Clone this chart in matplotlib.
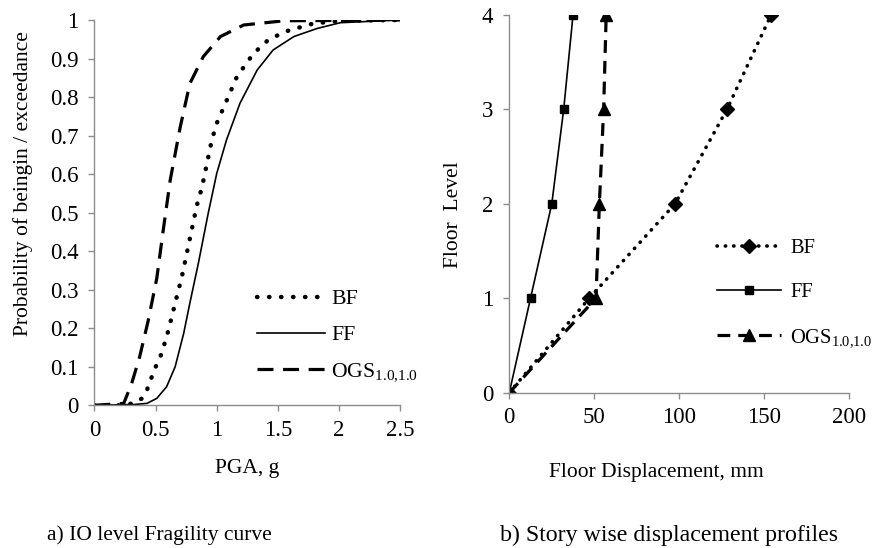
import matplotlib
matplotlib.use("Agg")
import matplotlib.pyplot as plt

plt.rcParams['font.family'] = ['Liberation Serif', 'DejaVu Serif']
plt.rcParams['mathtext.fontset'] = 'custom'
plt.rcParams['mathtext.rm'] = 'Liberation Serif'
plt.rcParams['font.size'] = 16

OGS_LABEL = r'OGS$_\mathrm{1.0{,}1.0}$'
AXIS_GRAY = '#8c8c8c'
TITLE_SIZE = 15.5

# a) fragility curves
pga_bf = [0, 0.20, 0.32, 0.39, 0.43, 0.49, 0.55, 0.605, 0.66, 0.715, 0.755, 0.795, 0.835,
          0.88, 0.92, 0.96, 1.0, 1.10, 1.165, 1.30, 1.42, 1.56, 1.79, 2.01, 2.5]
prob_bf = [0, 0, 0.005, 0.018, 0.04, 0.092, 0.135, 0.195, 0.265, 0.334, 0.394, 0.455, 0.516,
           0.567, 0.628, 0.689, 0.732, 0.805, 0.853, 0.913, 0.948, 0.97, 0.991, 0.998, 1.0]

pga_ff = [0, 0.32, 0.43, 0.51, 0.59, 0.66, 0.73, 0.78, 0.85, 0.93, 1.0, 1.08, 1.19,
          1.33, 1.46, 1.63, 1.82, 2.01, 2.5]
prob_ff = [0, 0.002, 0.005, 0.018, 0.048, 0.10, 0.187, 0.265, 0.369, 0.498, 0.602, 0.689, 0.784,
           0.87, 0.922, 0.957, 0.978, 0.993, 1.0]

pga_ogs = [0, 0.24, 0.305, 0.37, 0.44, 0.51, 0.565, 0.62, 0.70, 0.78, 0.89, 1.03, 1.22, 1.55, 2.5]
prob_ogs = [0, 0.005, 0.057, 0.126, 0.22, 0.33, 0.46, 0.585, 0.72, 0.835, 0.905, 0.957, 0.987, 0.998, 1.0]

# b) story wise displacement profiles
floors = [0, 1, 2, 3, 4]
disp_bf = [0, 47, 97.5, 128, 154]
disp_ff = [0, 12.5, 25, 32, 37.5]
disp_ogs = [0, 51, 53, 55.5, 57]

fig = plt.figure(figsize=(8.74, 5.48), dpi=100)
ax1 = fig.add_axes([0.108, 0.2604, 0.350, 0.7031])
ax2 = fig.add_axes([0.5827, 0.2834, 0.389, 0.6892])


def style_axes(ax):
    for side in ['top', 'right']:
        ax.spines[side].set_visible(False)
    for side in ['left', 'bottom']:
        ax.spines[side].set_color(AXIS_GRAY)
        ax.spines[side].set_linewidth(1.0)
    ax.tick_params(axis='both', direction='out', length=4.5, width=1.0, color=AXIS_GRAY,
                   labelsize=16.5)
    ax.tick_params(axis='y', pad=7)
    ax.tick_params(axis='x', pad=6)


# left panel
ax1.plot(pga_bf, prob_bf, color='black', lw=3.2, linestyle=(0, (0.1, 2.6)),
         dash_capstyle='round', label='BF')
ax1.plot(pga_ff, prob_ff, color='black', lw=1.2, label='FF')
ax1.plot(pga_ogs, prob_ogs, color='black', lw=2.3, linestyle=(0, (5, 3)), label=OGS_LABEL)
ax1.set_xlim(0, 2.5)
ax1.set_ylim(0, 1)
ax1.set_xticks([0, 0.5, 1, 1.5, 2, 2.5])
ax1.set_xticklabels(['0', '0.5', '1', '1.5', '2', '2.5'])
ax1.set_yticks([i / 10 for i in range(11)])
ax1.set_yticklabels(['0'] + ['0.%d' % i for i in range(1, 10)] + ['1'])
style_axes(ax1)
ax1.legend(loc='upper left', bbox_to_anchor=(0.532, 0.302), frameon=False,
           handlelength=3.1, handletextpad=0.3, labelspacing=0.72, fontsize=15.7,
           borderaxespad=0, borderpad=0)

# right panel
ax2.plot(disp_bf, floors, color='black', lw=2.6, linestyle=(0, (0.1, 2.2)),
         dash_capstyle='round', marker='D', markersize=7.5, label='BF')
ax2.plot(disp_ff, floors, color='black', lw=1.2, marker='s', markersize=5.5, label='FF')
ax2.plot(disp_ogs, floors, color='black', lw=2.3, linestyle=(0, (4, 2.5)),
         marker='^', markersize=8, label=OGS_LABEL)
ax2.set_xlim(0, 200)
ax2.set_ylim(0, 4)
ax2.set_xticks([0, 50, 100, 150, 200])
ax2.set_yticks(floors)
ax2.set_xticklabels(['0', '50', '100', '150', '200'])
ax2.set_yticklabels([str(f) for f in floors])
style_axes(ax2)
ax2.legend(loc='upper left', bbox_to_anchor=(0.611, 0.407), frameon=False,
           handlelength=3.1, handletextpad=0.45, labelspacing=1.2, numpoints=1,
           fontsize=14.8, borderaxespad=0, borderpad=0)

# axis titles and captions
fig.text(0.026, 1 - 184 / 548, 'Probability of beingin / exceedance', rotation=90,
         ha='center', va='center', fontsize=TITLE_SIZE)
fig.text(247 / 874, 1 - 468 / 548, 'PGA, g', ha='center', va='center', fontsize=TITLE_SIZE)
fig.text(453 / 874, 1 - 215 / 548, 'Floor  Level', rotation=90, ha='center', va='center',
         fontsize=TITLE_SIZE)
fig.text(656 / 874, 1 - 472 / 548, 'Floor Displacement, mm', ha='center', va='center',
         fontsize=TITLE_SIZE)
fig.text(47 / 874, 1 - 535 / 548, 'a) IO level Fragility curve', ha='left', va='center',
         fontsize=TITLE_SIZE)
fig.text(500 / 874, 1 - 535 / 548, 'b) Story wise displacement profiles', ha='left',
         va='center', fontsize=17.2)

fig.savefig('out.png', dpi=100)
